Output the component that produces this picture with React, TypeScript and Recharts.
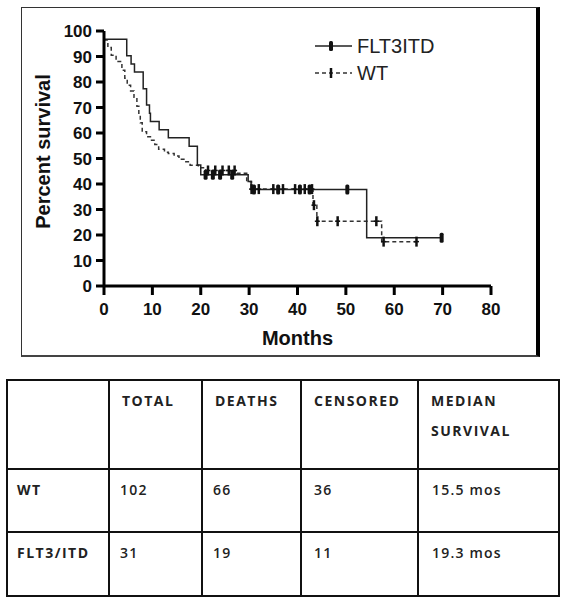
import React from 'react'
import {
  ComposedChart, Line, Scatter, XAxis, YAxis, Legend, Label,
} from 'recharts'

// Kaplan-Meier steps (months, percent surviving)
const flt3Months = [0, 4.7, 5.6, 6.3, 8.1, 8.8, 9.4, 9.6, 11.4, 13.3, 17.6, 19.3, 20.0, 29.8, 30.4, 54.3, 69.8]
const flt3Survival = [96.8, 90.3, 87.1, 83.9, 77.4, 71.0, 67.7, 64.5, 61.3, 58.1, 54.8, 47.5, 43.6, 41.0, 37.8, 18.9, 18.9]
const flt3Censored = [21.0, 22.5, 24.0, 26.5, 31.0, 36.0, 40.5, 42.5, 50.3, 69.8]

const wtMonths = [0, 0.8, 1.5, 2.5, 3.7, 4.3, 4.8, 5.5, 6.2, 6.8, 7.2, 7.5, 7.9, 8.8, 9.6, 10.5, 11.3, 12.5, 13.3, 14.5, 15.5, 16.7, 17.8, 19.5, 21.0, 27.5, 29.5, 30.5, 43.2, 44.0, 57.4, 64.6]
const wtSurvival = [96.5, 93.5, 90.5, 88.0, 84.6, 81.5, 78.7, 76.5, 74.0, 70.5, 67.0, 64.0, 60.5, 58.5, 57.2, 55.5, 53.6, 52.5, 52.0, 51.0, 49.7, 48.7, 47.4, 46.4, 45.3, 44.2, 41.0, 38.0, 31.7, 25.4, 17.4, 17.4]
const wtCensored = [21.5, 23.0, 24.5, 25.8, 27.0, 30.5, 32.0, 35.0, 37.0, 39.5, 41.5, 43.0, 43.4, 44.1, 48.3, 56.3, 57.8, 64.6]

const xTicks = [0, 10, 20, 30, 40, 50, 60, 70, 80]
const yTicks = [0, 10, 20, 30, 40, 50, 60, 70, 80, 90, 100]

// table below the plot
const tableHeader = ['', 'TOTAL', 'DEATHS', 'CENSORED', 'MEDIAN SURVIVAL']
const tableGroups = ['WT', 'FLT3/ITD']
const tableTotal = [102, 31]
const tableDeaths = [66, 19]
const tableCensored = [36, 11]
const tableMedian = ['15.5 mos', '19.3 mos']

const toPoints = (months: number[], surv: number[]) => months.map((m, i) => ({ x: m, y: surv[i] }))

// y of a censor mark = survival level of the step curve at that month
const censorPoints = (months: number[], surv: number[], cens: number[]) =>
  cens.map(t => {
    let idx = 0
    months.forEach((m, i) => { if (m <= t) idx = i })
    return { x: t, y: surv[idx] }
  })

const flt3Data = toPoints(flt3Months, flt3Survival)
const wtData = toPoints(wtMonths, wtSurvival)
const flt3Cens = censorPoints(flt3Months, flt3Survival, flt3Censored)
const wtCens = censorPoints(wtMonths, wtSurvival, wtCensored)

const FONT = '"Liberation Sans", Arial, sans-serif'

const SolidMark = (p: any) => (
  <rect x={p.cx - 2} y={p.cy - 5} width={4} height={10} rx={1.5} fill="#111" />
)

const DashMark = (p: any) => (
  <g stroke="#111">
    <line x1={p.cx} y1={p.cy - 5} x2={p.cx} y2={p.cy + 5} strokeWidth={2.5} />
    <line x1={p.cx - 2.5} y1={p.cy} x2={p.cx + 2.5} y2={p.cy} strokeWidth={1.5} />
  </g>
)

const KmLegend = () => (
  <svg width={140} height={48} style={{ fontFamily: FONT }}>
    <line x1={0} y1={10} x2={37} y2={10} stroke="#222" strokeWidth={1.5} />
    <rect x={14} y={5} width={4} height={10} rx={1.5} fill="#111" />
    <text x={42} y={10} dominantBaseline="central" fontSize={20} fill="#222">FLT3ITD</text>
    <line x1={0} y1={37} x2={37} y2={37} stroke="#333" strokeWidth={1.5} strokeDasharray="4 3" />
    <line x1={16} y1={32} x2={16} y2={42} stroke="#111" strokeWidth={2.5} />
    <text x={42} y={37} dominantBaseline="central" fontSize={20} fill="#222">WT</text>
  </svg>
)

const cellStyle: React.CSSProperties = {
  border: '2px solid #111',
  verticalAlign: 'top',
  textAlign: 'left',
  padding: '5px 8px 0 12px',
  fontFamily: '"Open Sans", sans-serif',
  fontWeight: 700,
  fontSize: 14,
  letterSpacing: 1.5,
  lineHeight: '30px',
  color: '#222',
}

const valueStyle: React.CSSProperties = { ...cellStyle, fontWeight: 600, letterSpacing: 1.2 }

export default function App() {
  return (
    <div style={{ position: 'absolute', left: 0, top: 0, width: 566, height: 601, background: '#fff' }}>
      <div
        style={{
          position: 'absolute', left: 21, top: 7, width: 514, height: 347,
          borderLeft: '1px solid #333', borderTop: '1px solid #333',
          borderRight: '4px solid #000', borderBottom: '2px solid #444',
        }}
      >
        <ComposedChart width={514} height={347} margin={{ top: 23, right: 45, left: 0, bottom: 19 }}>
          <XAxis
            type="number" dataKey="x" domain={[0, 80]} ticks={xTicks} interval={0}
            height={50} tickSize={9} tickMargin={8}
            axisLine={{ stroke: '#000', strokeWidth: 3 }}
            tickLine={{ stroke: '#000', strokeWidth: 3 }}
            tick={{ fill: '#111', fontSize: 17, fontWeight: 700, fontFamily: FONT }}
          >
            <Label
              content={({ viewBox }: any) => (
                <text
                  x={viewBox.x + viewBox.width / 2} y={viewBox.y + 52}
                  textAnchor="middle" dominantBaseline="central"
                  fontSize={20} fontWeight={700} fontFamily={FONT} fill="#111"
                >
                  Months
                </text>
              )}
            />
          </XAxis>
          <YAxis
            type="number" dataKey="y" domain={[0, 100]} ticks={yTicks} interval={0}
            width={82} tickSize={8} tickMargin={4}
            axisLine={{ stroke: '#000', strokeWidth: 3 }}
            tickLine={{ stroke: '#000', strokeWidth: 3 }}
            tick={{ fill: '#111', fontSize: 17, fontWeight: 700, fontFamily: FONT }}
          >
            <Label
              content={({ viewBox }: any) => {
                const x = viewBox.x + 20.5
                const y = viewBox.y + viewBox.height / 2 - 7
                return (
                  <text
                    x={x} y={y} transform={`rotate(-90 ${x} ${y})`}
                    textAnchor="middle" dominantBaseline="central"
                    fontSize={20} fontWeight={700} fontFamily={FONT} fill="#111"
                  >
                    Percent survival
                  </text>
                )
              }}
            />
          </YAxis>
          <Legend
            layout="vertical" align="center" verticalAlign="middle"
            wrapperStyle={{ position: 'absolute', left: 293, top: 28, width: 140 }}
            content={() => <KmLegend />}
          />
          <Line
            data={wtData} dataKey="y" type="stepAfter" name="WT"
            stroke="#333" strokeWidth={1.5} strokeDasharray="4 3"
            dot={false} isAnimationActive={false}
          />
          <Line
            data={flt3Data} dataKey="y" type="stepAfter" name="FLT3ITD"
            stroke="#222" strokeWidth={1.5}
            dot={false} isAnimationActive={false}
          />
          <Scatter data={wtCens} dataKey="y" shape={DashMark} isAnimationActive={false} legendType="none" />
          <Scatter data={flt3Cens} dataKey="y" shape={SolidMark} isAnimationActive={false} legendType="none" />
        </ComposedChart>
      </div>

      <table
        style={{
          position: 'absolute', left: 6, top: 379, width: 554, height: 218,
          borderCollapse: 'collapse', tableLayout: 'fixed',
        }}
      >
        <colgroup>
          <col style={{ width: 102 }} />
          <col style={{ width: 93 }} />
          <col style={{ width: 99 }} />
          <col style={{ width: 117 }} />
          <col style={{ width: 141 }} />
        </colgroup>
        <tbody>
          <tr style={{ height: 89 }}>
            {tableHeader.map((h, i) => (
              <td key={i} style={cellStyle}>{h}</td>
            ))}
          </tr>
          {tableGroups.map((g, r) => (
            <tr key={g} style={{ height: r === 0 ? 63 : 64 }}>
              <td style={{ ...cellStyle, paddingLeft: 9 }}>{g}</td>
              <td style={{ ...valueStyle, paddingLeft: 10 }}>{tableTotal[r]}</td>
              <td style={{ ...valueStyle, paddingLeft: 10 }}>{tableDeaths[r]}</td>
              <td style={valueStyle}>{tableCensored[r]}</td>
              <td style={{ ...valueStyle, paddingLeft: 13 }}>{tableMedian[r]}</td>
            </tr>
          ))}
        </tbody>
      </table>
    </div>
  )
}
